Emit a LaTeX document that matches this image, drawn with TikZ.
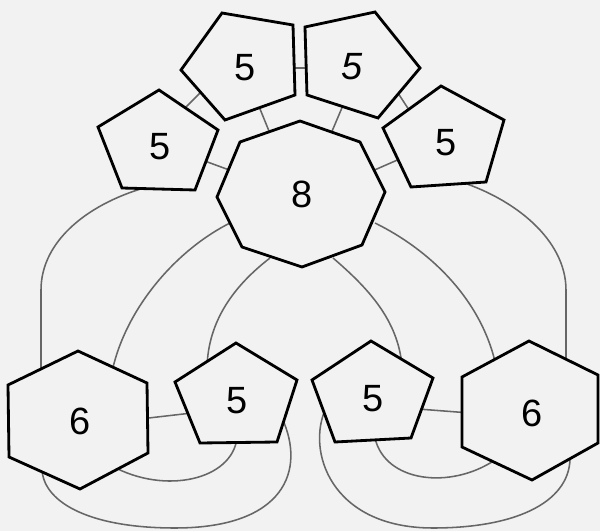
\documentclass[tikz,border=0pt]{standalone}
\usepackage{fontspec}
\setmainfont{Liberation Sans}
\begin{document}
\begin{tikzpicture}[x=0.025cm,y=-0.025cm,
  poly/.style={draw=black,line width=2pt,line join=miter,fill=black!5},
  link/.style={draw=black!60,line width=1.1pt},
  lbl/.style={font=\fontsize{27}{27}\selectfont,inner sep=0pt}]
\fill[black!5] (0,0) rectangle (600,531);
\useasboundingbox (0,0) rectangle (600,531);
% connector end points
\coordinate (a1) at (295,68);  \coordinate (a2) at (305,68);
\coordinate (b1) at (182,111); \coordinate (b2) at (203,90);
\coordinate (c1) at (258,104); \coordinate (c2) at (271,136);
\coordinate (d1) at (344,103); \coordinate (d2) at (330,136);
\coordinate (e1) at (396,90);  \coordinate (e2) at (411,113);
\coordinate (f1) at (202,160); \coordinate (f2) at (232,171);
\coordinate (g1) at (370,172); \coordinate (g2) at (402,158);
\coordinate (h1) at (151,186); \coordinate (h2) at (41,380);
\coordinate (i1) at (455,180); \coordinate (i2) at (566,372);
\coordinate (j1) at (232,222); \coordinate (j2) at (112,372);
\coordinate (k1) at (270,258); \coordinate (k2) at (207,368);
\coordinate (l1) at (333,258); \coordinate (l2) at (402,366);
\coordinate (m1) at (375,223); \coordinate (m2) at (496,366);
\coordinate (n1) at (140,419); \coordinate (n2) at (192,413);
\coordinate (o1) at (418,409); \coordinate (o2) at (470,413);
\coordinate (p1) at (237,438); \coordinate (p2) at (112,466);
\coordinate (q1) at (282,418); \coordinate (q2) at (42,468);
\coordinate (r1) at (375,438); \coordinate (r2) at (495,460);
\coordinate (s1) at (326,408); \coordinate (s2) at (570,455);
% connectors
\draw[link] (a1) -- (a2);
\draw[link] (b1) -- (b2);
\draw[link] (c1) -- (c2);
\draw[link] (d1) -- (d2);
\draw[link] (e1) -- (e2);
\draw[link] (f1) -- (f2);
\draw[link] (g1) -- (g2);
\draw[link] (h1) .. controls (90,202) and (41,240) .. (41,290) -- (h2);
\draw[link] (i1) .. controls (515,198) and (566,240) .. (566,290) -- (i2);
\draw[link] (j1) .. controls (175,250) and (125,310) .. (j2);
\draw[link] (k1) .. controls (235,285) and (208,320) .. (k2);
\draw[link] (l1) .. controls (368,288) and (398,320) .. (l2);
\draw[link] (m1) .. controls (430,250) and (482,300) .. (m2);
\draw[link] (n1) -- (n2);
\draw[link] (o1) -- (o2);
\draw[link] (p1) .. controls (232,480) and (165,495) .. (p2);
\draw[link] (q1) .. controls (306,470) and (285,528) .. (175,528) .. controls (85,528) and (42,500) .. (q2);
\draw[link] (r1) .. controls (385,482) and (450,490) .. (r2);
\draw[link] (s1) .. controls (306,450) and (330,528) .. (433,528) .. controls (520,528) and (572,500) .. (s2);
% polygons
\draw[poly] (222,13) -- (293,25) -- (295,95) -- (225,120) -- (181,70) -- cycle;
\draw[poly] (305,27) -- (375,12) -- (420,68) -- (378,118) -- (307,95) -- cycle;
\draw[poly] (159,90) -- (218,130) -- (195,190) -- (122,188) -- (98,127) -- cycle;
\draw[poly] (441,86) -- (504,120) -- (486,182) -- (411,187) -- (383,128) -- cycle;
\draw[poly] (300,121) -- (360,142) -- (385,192) -- (362,245) -- (302,267) -- (242,247) -- (217,197) -- (240,142) -- cycle;
\draw[poly] (78,351) -- (147,383) -- (148,453) -- (80,489) -- (9,457) -- (8,385) -- cycle;
\draw[poly] (236,343) -- (297,380) -- (277,442) -- (200,443) -- (175,382) -- cycle;
\draw[poly] (371,341) -- (433,378) -- (411,438) -- (335,442) -- (312,380) -- cycle;
\draw[poly] (529,341) -- (598,375) -- (598,443) -- (532,480) -- (462,447) -- (462,377) -- cycle;
% labels
\node[lbl] (tl) at (245,68) {5};
\node[lbl] (tr) at (352,67) {\itshape 5};
\node[lbl] (lp) at (160,147) {5};
\node[lbl] (rp) at (446,143) {5};
\node[lbl] (oc) at (302,194) {8};
\node[lbl] (lh) at (80,421) {6};
\node[lbl] (lb) at (237,401) {5};
\node[lbl] (rb) at (373,399) {5};
\node[lbl] (rh) at (532,413) {6};
\end{tikzpicture}
\end{document}
